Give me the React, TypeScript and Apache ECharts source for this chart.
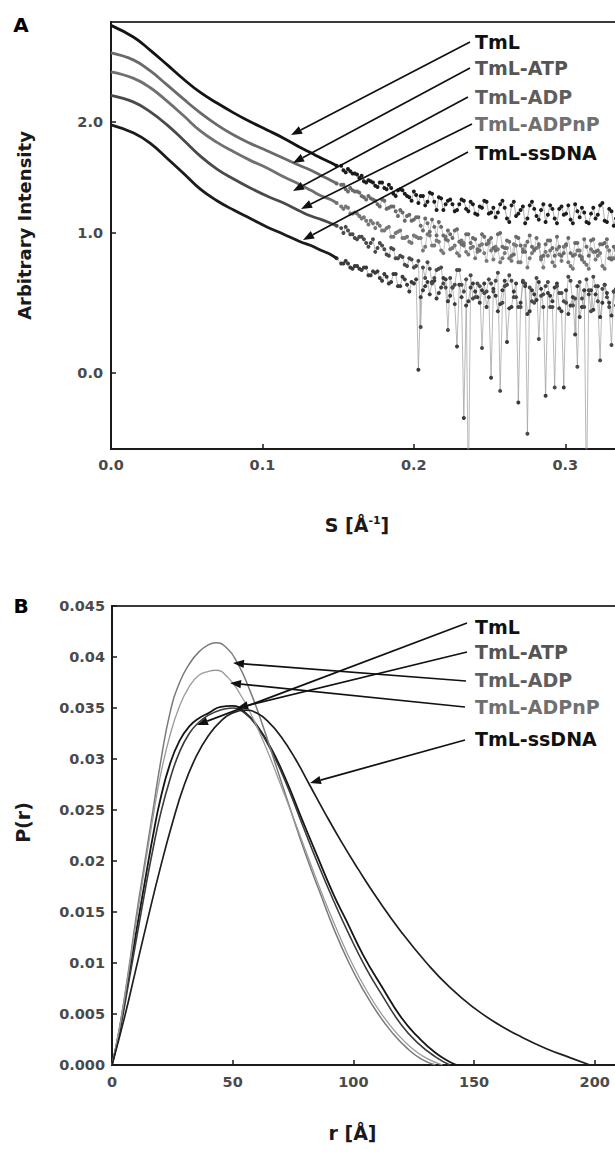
import React, { useEffect, useRef } from "react";
import * as echarts from "echarts";

// ---------- shared ----------
const NAMES = ["TmL", "TmL-ATP", "TmL-ADP", "TmL-ADPnP", "TmL-ssDNA"];

// ---------- Panel A : scattering curves ----------
const A_X_TICKS = [0, 0.1, 0.2, 0.3];
const A_Y_TICKS = [0, 1, 2];
const A_LOG_OFFSET = 3.4; // intensity axis of the figure is compressed (log-like)

const A_SMOOTH_S = [0, 0.015, 0.026, 0.037, 0.048, 0.059, 0.07, 0.081, 0.092, 0.103, 0.114, 0.125, 0.132, 0.139, 0.145, 0.149];
const A_SMOOTH_TML = [3.05, 2.91, 2.76, 2.6, 2.44, 2.3, 2.19, 2.09, 2.0, 1.92, 1.84, 1.75, 1.7, 1.65, 1.61, 1.58];
const A_SMOOTH_ATP = [2.73, 2.65, 2.53, 2.38, 2.23, 2.09, 1.97, 1.87, 1.79, 1.72, 1.65, 1.58, 1.54, 1.49, 1.45, 1.42];
const A_SMOOTH_ADP = [2.52, 2.45, 2.35, 2.21, 2.06, 1.91, 1.8, 1.71, 1.63, 1.56, 1.48, 1.41, 1.36, 1.31, 1.28, 1.25];
const A_SMOOTH_ADPNP = [2.27, 2.2, 2.1, 1.97, 1.82, 1.67, 1.55, 1.46, 1.38, 1.31, 1.25, 1.18, 1.14, 1.11, 1.08, 1.06];
const A_SMOOTH_SSDNA = [1.97, 1.89, 1.79, 1.65, 1.51, 1.37, 1.27, 1.19, 1.12, 1.05, 0.99, 0.93, 0.9, 0.86, 0.83, 0.8];

const A_NOISY_S = [
  0.152, 0.155, 0.158, 0.161, 0.164, 0.167, 0.17, 0.173, 0.176, 0.179,
  0.182, 0.185, 0.188, 0.191, 0.194, 0.197, 0.2, 0.203, 0.206, 0.209,
  0.212, 0.215, 0.218, 0.221, 0.224, 0.227, 0.23, 0.233, 0.236, 0.239,
  0.242, 0.245, 0.248, 0.251, 0.254, 0.257, 0.26, 0.263, 0.266, 0.269,
  0.272, 0.275, 0.278, 0.281, 0.284, 0.287, 0.29, 0.293, 0.296, 0.299,
  0.302, 0.305, 0.308, 0.311, 0.314, 0.317, 0.32, 0.323, 0.326, 0.329,
  0.332, 0.335, 0.338, 0.341, 0.344,
];
const A_NOISY_S_MID = [
  0.1535, 0.1565, 0.1595, 0.1625, 0.1655, 0.1685, 0.1715, 0.1745, 0.1775, 0.1805,
  0.1835, 0.1865, 0.1895, 0.1925, 0.1955, 0.1985, 0.2015, 0.2045, 0.2075, 0.2105,
  0.2135, 0.2165, 0.2195, 0.2225, 0.2255, 0.2285, 0.2315, 0.2345, 0.2375, 0.2405,
  0.2435, 0.2465, 0.2495, 0.2525, 0.2555, 0.2585, 0.2615, 0.2645, 0.2675, 0.2705,
  0.2735, 0.2765, 0.2795, 0.2825, 0.2855, 0.2885, 0.2915, 0.2945, 0.2975, 0.3005,
  0.3035, 0.3065, 0.3095, 0.3125, 0.3155, 0.3185, 0.3215, 0.3245, 0.3275, 0.3305,
  0.3335, 0.3365, 0.3395, 0.3425,
];

const A_NOISY_TML = [
  1.58, 1.52, 1.53, 1.51, 1.47, 1.44, 1.45, 1.43, 1.39, 1.43,
  1.37, 1.38, 1.31, 1.37, 1.33, 1.3, 1.35, 1.25, 1.31, 1.26,
  1.33, 1.19, 1.29, 1.24, 1.28, 1.18, 1.24, 1.27, 1.18, 1.24,
  1.15, 1.21, 1.26, 1.17, 1.13, 1.24, 1.21, 1.09, 1.26, 1.16,
  1.22, 1.12, 1.26, 1.14, 1.19, 1.09, 1.23, 1.12, 1.2, 1.15,
  1.23, 1.08, 1.18, 1.21, 1.09, 1.16, 1.12, 1.23, 1.1, 1.2,
  1.06, 1.17, 1.21, 1.12, 1.19,
];
const A_NOISY_TML_MID = [
  1.54, 1.55, 1.51, 1.5, 1.49, 1.43, 1.44, 1.4, 1.43, 1.38,
  1.41, 1.33, 1.36, 1.36, 1.31, 1.27, 1.32, 1.31, 1.23, 1.34,
  1.26, 1.3, 1.19, 1.27, 1.24, 1.19, 1.28, 1.2, 1.26, 1.16,
  1.22, 1.27, 1.16, 1.21, 1.17, 1.27, 1.12, 1.23, 1.14, 1.19,
  1.08, 1.23, 1.2, 1.11, 1.24, 1.15, 1.2, 1.08, 1.22, 1.16,
  1.11, 1.24, 1.13, 1.17, 1.08, 1.21, 1.15, 1.25, 1.09, 1.18,
  1.12, 1.2, 1.1, 1.23,
];
const A_NOISY_ATP = [
  1.41, 1.37, 1.38, 1.35, 1.34, 1.3, 1.31, 1.28, 1.24, 1.28,
  1.2, 1.22, 1.18, 1.19, 1.1, 1.15, 1.11, 1.13, 1.02, 1.08,
  1.11, 0.98, 1.05, 0.95, 0.99, 1.02, 0.93, 0.9, 0.99, 0.96,
  0.87, 0.99, 0.91, 0.96, 0.86, 1.0, 0.88, 0.93, 0.83, 0.96,
  0.85, 0.93, 0.89, 0.96, 0.81, 0.91, 0.94, 0.82, 0.89, 0.84,
  0.96, 0.82, 0.92, 0.79, 0.89, 0.94, 0.85, 0.91, 0.92, 0.8,
  0.89, 0.95, 0.84, 0.78, 0.92,
];
const A_NOISY_ATP_MID = [
  1.41, 1.35, 1.36, 1.35, 1.31, 1.28, 1.29, 1.27, 1.22, 1.27,
  1.21, 1.22, 1.14, 1.17, 1.14, 1.1, 1.13, 1.06, 1.12, 1.01,
  1.05, 1.09, 0.98, 1.02, 0.96, 1.03, 0.91, 0.99, 0.92, 0.95,
  0.86, 0.97, 0.94, 0.88, 0.99, 0.89, 0.94, 0.82, 0.97, 0.9,
  0.85, 0.98, 0.87, 0.91, 0.82, 0.94, 0.88, 0.97, 0.82, 0.91,
  0.84, 0.92, 0.82, 0.95, 0.82, 0.95, 0.86, 0.91, 0.95, 0.79,
  0.88, 0.83, 0.94, 0.85,
];
const A_NOISY_ADP = [
  1.22, 1.22, 1.16, 1.17, 1.14, 1.13, 1.07, 1.08, 1.08, 1.02,
  1.04, 0.97, 1.0, 1.02, 0.96, 0.93, 0.98, 0.96, 0.86, 0.99,
  0.9, 0.94, 0.86, 0.97, 0.87, 0.9, 0.82, 0.92, 0.83, 0.89,
  0.85, 0.91, 0.78, 0.86, 0.89, 0.77, 0.84, 0.8, 0.91, 0.77,
  0.87, 0.73, 0.84, 0.88, 0.79, 0.85, 0.86, 0.74, 0.83, 0.89,
  0.77, 0.72, 0.86, 0.81, 0.75, 0.87, 0.79, 0.84, 0.72, 0.86,
  0.8, 0.76, 0.89, 0.74, 0.83,
];
const A_NOISY_ADP_MID = [
  1.2, 1.21, 1.16, 1.16, 1.12, 1.1, 1.1, 1.04, 1.06, 1.02,
  1.05, 0.97, 1.01, 0.96, 0.97, 0.92, 0.97, 0.96, 0.89, 0.98,
  0.9, 0.93, 0.84, 0.94, 0.88, 0.84, 0.94, 0.85, 0.88, 0.8,
  0.9, 0.84, 0.92, 0.79, 0.87, 0.8, 0.88, 0.78, 0.9, 0.77,
  0.9, 0.8, 0.86, 0.89, 0.73, 0.82, 0.77, 0.87, 0.78, 0.9,
  0.74, 0.83, 0.86, 0.77, 0.72, 0.85, 0.82, 0.74, 0.89, 0.8,
  0.86, 0.72, 0.84, 0.81,
];
const A_NOISY_ADPNP = [
  1.04, 1.05, 0.99, 0.96, 0.97, 0.95, 0.89, 0.95, 0.88, 0.9,
  0.83, 0.88, 0.8, 0.82, 0.75, 0.8, 0.73, 0.78, 0.73, 0.77,
  0.61, 0.71, 0.73, 0.58, 0.65, 0.6, 0.71, 0.55, -0.7, 0.5,
  0.61, 0.16, 0.55, 0.61, 0.63, -0.11, 0.59, 0.67, 0.51, 0.44,
  0.63, -0.36, 0.48, 0.65, 0.52, 0.59, 0.44, -0.09, 0.54, 0.48,
  0.66, 0.45, 0.04, 0.5, 0.64, 0.41, 0.59, 0.08, 0.6, 0.44,
  0.55, 0.62, 0.46, 0.58, 0.42,
];
const A_NOISY_ADPNP_MID = [
  1.0, 1.02, 0.99, 0.95, 0.97, 0.92, 0.92, 0.85, 0.92, 0.87,
  0.82, 0.87, 0.8, 0.81, 0.74, 0.79, 0.74, 0.3, 0.65, 0.72,
  0.65, 0.72, 0.61, 0.28, 0.58, 0.71, 0.6, 0.64, 0.67, 0.51,
  0.59, 0.54, 0.64, 0.55, 0.69, 0.47, 0.6, 0.63, 0.51, 0.44,
  0.61, 0.58, 0.47, 0.22, 0.53, 0.62, 0.44, 0.59, 0.54, 0.47,
  0.63, 0.5, 0.62, 0.44, 0.56, 0.66, 0.48, 0.57, 0.51, 0.18,
  0.45, 0.6, 0.49, 0.55,
];
const A_NOISY_SSDNA = [
  0.76, 0.78, 0.73, 0.74, 0.72, 0.73, 0.67, 0.7, 0.7, 0.63,
  0.66, 0.62, 0.68, 0.59, 0.64, 0.55, 0.61, 0.02, 0.56, 0.62,
  0.62, 0.5, 0.58, 0.64, 0.52, 0.46, 0.6, -0.27, 0.48, 0.61,
  0.51, 0.56, 0.44, -0.03, 0.52, 0.46, 0.63, 0.43, 0.55, -0.18,
  0.62, 0.39, 0.56, 0.49, 0.57, -0.14, 0.52, 0.58, 0.43, -0.09,
  0.39, 0.51, 0.59, 0.44, -0.7, 0.56, 0.53, 0.37, 0.6, 0.47,
  0.55, 0.42, 0.61, 0.45, 0.51,
];
const A_NOISY_SSDNA_MID = [
  0.76, 0.76, 0.72, 0.74, 0.71, 0.73, 0.67, 0.69, 0.65, 0.68,
  0.61, 0.68, 0.59, 0.66, 0.6, 0.62, 0.64, 0.51, 0.59, 0.53,
  0.63, 0.54, 0.65, 0.48, 0.58, 0.17, 0.51, 0.45, 0.58, 0.55,
  0.47, 0.61, 0.51, 0.57, 0.41, 0.56, 0.2, 0.44, 0.61, 0.47,
  0.59, 0.41, 0.53, 0.62, 0.44, 0.54, 0.48, 0.61, 0.41, 0.56,
  0.45, 0.25, 0.37, 0.56, 0.53, 0.42, 0.59, 0.47, 0.54, 0.38,
  0.57, 0.49, 0.43, 0.6,
];

// ---------- Panel B : pair distance distributions P(r) ----------
const B_X_TICKS = [0, 50, 100, 150, 200];
const B_Y_TICKS = [0, 0.005, 0.01, 0.015, 0.02, 0.025, 0.03, 0.035, 0.04, 0.045];

const B_TML = [
  [0, 0], [3, 0.0033], [7, 0.0088], [10, 0.013], [14, 0.0185], [17, 0.0225], [20, 0.026],
  [24, 0.0295], [28, 0.0318], [32, 0.0332], [36, 0.034], [40, 0.0345], [45, 0.0351],
  [50, 0.0352], [55, 0.0346], [60, 0.0333], [66, 0.031], [72, 0.028], [78, 0.0245],
  [85, 0.0205], [92, 0.0166], [97, 0.0142], [104, 0.0108], [112, 0.0076], [120, 0.0046],
  [127, 0.0027], [134, 0.0012], [140, 0.0003], [143, 0],
];
const B_ATP = [
  [0, 0], [3, 0.003], [7, 0.0082], [10, 0.0122], [14, 0.0175], [17, 0.0212], [20, 0.0245],
  [24, 0.028], [28, 0.0307], [32, 0.0325], [36, 0.0336], [40, 0.0343], [45, 0.0348],
  [50, 0.035], [55, 0.0345], [60, 0.0332], [66, 0.0308], [72, 0.0277], [78, 0.0241],
  [85, 0.0199], [92, 0.016], [98, 0.0129], [105, 0.0096], [112, 0.0068], [120, 0.0039],
  [127, 0.0021], [134, 0.0008], [140, 0],
];
const B_ADP = [
  [0, 0], [3, 0.0035], [7, 0.0095], [10, 0.0145], [14, 0.0205], [17, 0.025], [20, 0.0295],
  [24, 0.0345], [28, 0.0375], [32, 0.0393], [36, 0.0405], [40, 0.0412], [43, 0.0414],
  [47, 0.041], [52, 0.0394], [57, 0.0368], [62, 0.0336], [68, 0.0293], [74, 0.025],
  [80, 0.0208], [86, 0.017], [92, 0.0133], [98, 0.0101], [104, 0.0074], [110, 0.0051],
  [116, 0.0032], [122, 0.0017], [128, 0.0006], [134, 0],
];
const B_ADPNP = [
  [0, 0], [3, 0.0035], [7, 0.0093], [10, 0.014], [14, 0.02], [17, 0.0243], [20, 0.0283],
  [24, 0.0323], [28, 0.0352], [32, 0.0371], [36, 0.0382], [40, 0.0386], [43, 0.0387],
  [48, 0.038], [53, 0.0364], [58, 0.0342], [64, 0.031], [70, 0.0274], [76, 0.0237],
  [82, 0.0199], [88, 0.0162], [94, 0.0128], [100, 0.0097], [106, 0.0071], [112, 0.0049],
  [118, 0.0031], [124, 0.0017], [130, 0.0007], [137, 0],
];
const B_SSDNA = [
  [0, 0], [5, 0.0045], [10, 0.0095], [15, 0.0145], [20, 0.0193], [25, 0.0237], [30, 0.0275],
  [35, 0.0303], [40, 0.0323], [45, 0.0337], [50, 0.0345], [55, 0.0348], [60, 0.0345],
  [65, 0.0336], [70, 0.0322], [76, 0.03], [82, 0.0274], [88, 0.0248], [95, 0.0219],
  [102, 0.0192], [110, 0.0163], [120, 0.013], [130, 0.0101], [140, 0.0076], [150, 0.0056],
  [160, 0.004], [170, 0.0027], [180, 0.0016], [190, 0.0007], [198, 0],
];

// ---------- layout / style (not data) ----------
const FONT = '"DejaVu Sans", "Liberation Sans", Arial, sans-serif';
const CHART_W = 660;
const CHART_H = 1152;
const GRID_A = { left: 111, top: 22, width: 530, height: 427 };
const GRID_B = { left: 112, top: 606, width: 531, height: 459 };
const A_RANGE_X = [0, 0.35];
const A_RANGE_Y = [-0.444, 3.09];
const B_RANGE_X = [0, 220];
const B_RANGE_Y = [0, 0.045];

const A_LINE_COLORS = ["#141414", "#6a6a6a", "#707070", "#4a4a4a", "#1c1c1c"];
const A_DOT_COLORS = ["#1c1c1c", "#6a6a6a", "#777777", "#4a4a4a", "#3a3a3a"];
const A_NOISE_LINE_COLORS = ["#8c8c8c", "#a6a6a6", "#aaaaaa", "#9e9e9e", "#9a9a9a"];
const B_LINE_COLORS = ["#151515", "#3a3a3a", "#7a7a7a", "#9a9a9a", "#1e1e1e"];
const B_LINE_WIDTHS = [1.8, 1.6, 1.5, 1.3, 1.7];
const LABEL_COLORS = ["#111111", "#555555", "#5e5e5e", "#707070", "#111111"];

const A_LABEL_X = 475;
const A_LABEL_Y = [42, 68, 97, 124, 153];
const A_ARROWS = [
  [470, 42, 291, 135],
  [470, 68, 293, 163],
  [468, 97, 293, 191],
  [472, 124, 301, 209],
  [468, 152, 303, 240],
];
const B_LABEL_X = 475;
const B_LABEL_Y = [627, 652, 680, 707, 739];
const B_ARROWS = [
  [467, 623, 197, 725],
  [467, 652, 237, 708],
  [466, 681, 233, 663],
  [465, 707, 230, 683],
  [465, 740, 310, 783],
];

const toT = (v: number) => Math.log(v + A_LOG_OFFSET);

function arrowGraphic(x1: number, y1: number, x2: number, y2: number) {
  const dx = x2 - x1;
  const dy = y2 - y1;
  const len = Math.hypot(dx, dy);
  const ux = dx / len;
  const uy = dy / len;
  const L = 11;
  const Wd = 4.2;
  const bx = x2 - ux * L;
  const by = y2 - uy * L;
  const nx = -uy;
  const ny = ux;
  return [
    {
      type: "line",
      z: 100,
      shape: { x1, y1, x2: bx, y2: by },
      style: { stroke: "#111", lineWidth: 1.7 },
    },
    {
      type: "polygon",
      z: 100,
      shape: {
        points: [
          [x2, y2],
          [bx + nx * Wd, by + ny * Wd],
          [bx - nx * Wd, by - ny * Wd],
        ],
      },
      style: { fill: "#111" },
    },
  ];
}

function labelGraphic(text: string, x: number, y: number, color: string) {
  return {
    type: "text",
    z: 100,
    x,
    y,
    style: {
      text,
      fill: color,
      fontFamily: FONT,
      fontWeight: "bold",
      fontSize: 19,
      align: "left",
      verticalAlign: "middle",
    },
  };
}

const tickLabelStyle = {
  fontFamily: FONT,
  fontWeight: "bold",
  fontSize: 14.5,
  color: "#4a4a4a",
};
const titleStyle = {
  fontFamily: FONT,
  fontWeight: "bold",
  fontSize: 19,
  color: "#1a1a1a",
};
const axisLineStyle = { show: true, onZero: false, lineStyle: { color: "#1a1a1a", width: 2 } };

export default function App() {
  const ref = useRef<HTMLDivElement>(null);

  useEffect(() => {
    if (!ref.current) return;
    const chart = echarts.init(ref.current, undefined, { renderer: "svg" });

    const aSmooth = [A_SMOOTH_TML, A_SMOOTH_ATP, A_SMOOTH_ADP, A_SMOOTH_ADPNP, A_SMOOTH_SSDNA];
    const aNoisy = [A_NOISY_TML, A_NOISY_ATP, A_NOISY_ADP, A_NOISY_ADPNP, A_NOISY_SSDNA];
    const aNoisyMid = [A_NOISY_TML_MID, A_NOISY_ATP_MID, A_NOISY_ADP_MID, A_NOISY_ADPNP_MID, A_NOISY_SSDNA_MID];
    const bCurves = [B_TML, B_ATP, B_ADP, B_ADPNP, B_SSDNA];

    const seriesA: any[] = [];
    // draw lower curves first so the upper band stays on top
    for (let k = NAMES.length - 1; k >= 0; k--) {
      const sm = aSmooth[k];
      const smoothData = A_SMOOTH_S.map((s, j) => [s, toT(sm[j])]);
      const last = smoothData[smoothData.length - 1];
      const noisyData: number[][] = [last];
      A_NOISY_S.forEach((s, j) => {
        noisyData.push([s, toT(aNoisy[k][j])]);
        if (j < A_NOISY_S_MID.length) noisyData.push([A_NOISY_S_MID[j], toT(aNoisyMid[k][j])]);
      });
      seriesA.push({
        name: NAMES[k] + " (noisy)",
        type: "line",
        xAxisIndex: 0,
        yAxisIndex: 0,
        data: noisyData,
        symbol: "circle",
        symbolSize: 4,
        showSymbol: true,
        clip: true,
        itemStyle: { color: A_DOT_COLORS[k] },
        lineStyle: { color: A_NOISE_LINE_COLORS[k], width: 0.7 },
        z: 2,
      });
      seriesA.push({
        name: NAMES[k],
        type: "line",
        xAxisIndex: 0,
        yAxisIndex: 0,
        data: smoothData,
        symbol: "none",
        smooth: 0.45,
        clip: true,
        lineStyle: { color: A_LINE_COLORS[k], width: 2.8 },
        z: 3,
      });
    }

    const seriesB = bCurves.map((c, k) => ({
      name: NAMES[k] + " P(r)",
      type: "line",
      xAxisIndex: 1,
      yAxisIndex: 1,
      data: c,
      symbol: "none",
      smooth: 0.5,
      clip: true,
      lineStyle: { color: B_LINE_COLORS[k], width: B_LINE_WIDTHS[k] },
      z: 3,
    }));

    const graphics: any[] = [
      {
        type: "text",
        z: 100,
        x: 21,
        y: 25,
        style: { text: "A", fontFamily: FONT, fontWeight: "bold", fontSize: 20, fill: "#000", align: "center", verticalAlign: "middle" },
      },
      {
        type: "text",
        z: 100,
        x: 21,
        y: 606,
        style: { text: "B", fontFamily: FONT, fontWeight: "bold", fontSize: 20, fill: "#000", align: "center", verticalAlign: "middle" },
      },
    ];
    NAMES.forEach((n, k) => {
      graphics.push(labelGraphic(n, A_LABEL_X, A_LABEL_Y[k], LABEL_COLORS[k]));
      graphics.push(...arrowGraphic(A_ARROWS[k][0], A_ARROWS[k][1], A_ARROWS[k][2], A_ARROWS[k][3]));
      graphics.push(labelGraphic(n, B_LABEL_X, B_LABEL_Y[k], LABEL_COLORS[k]));
      graphics.push(...arrowGraphic(B_ARROWS[k][0], B_ARROWS[k][1], B_ARROWS[k][2], B_ARROWS[k][3]));
    });

    const option: any = {
      animation: false,
      backgroundColor: "#ffffff",
      grid: [
        { ...GRID_A, show: true, borderColor: "#3a3a3a", borderWidth: 2, backgroundColor: "transparent" },
        { ...GRID_B, show: true, borderColor: "#3a3a3a", borderWidth: 2, backgroundColor: "transparent" },
      ],
      xAxis: [
        {
          type: "value",
          gridIndex: 0,
          min: A_RANGE_X[0],
          max: A_RANGE_X[1],
          axisLine: axisLineStyle,
          axisTick: { show: true, inside: true, length: 5, customValues: A_X_TICKS, lineStyle: { color: "#1a1a1a", width: 1.5 } },
          axisLabel: {
            ...tickLabelStyle,
            margin: 8,
            customValues: A_X_TICKS,
            formatter: (v: number) => v.toFixed(1),
          },
          splitLine: { show: false },
          name: "S [Å{sup|-1}]",
          nameLocation: "middle",
          nameGap: 66,
          nameTextStyle: {
            ...titleStyle,
            padding: [0, 38, 0, 0],
            rich: { sup: { fontFamily: FONT, fontWeight: "bold", fontSize: 11, color: "#1a1a1a", verticalAlign: "top", padding: [0, 0, 8, 0] } },
          },
        },
        {
          type: "value",
          gridIndex: 1,
          min: B_RANGE_X[0],
          max: B_RANGE_X[1],
          axisLine: axisLineStyle,
          axisTick: { show: true, inside: true, length: 5, customValues: B_X_TICKS, lineStyle: { color: "#1a1a1a", width: 1.5 } },
          axisLabel: {
            ...tickLabelStyle,
            margin: 9,
            customValues: B_X_TICKS,
            formatter: (v: number) => String(v),
          },
          splitLine: { show: false },
          name: "r [Å]",
          nameLocation: "middle",
          nameGap: 58,
          nameTextStyle: { ...titleStyle, padding: [0, 50, 0, 0] },
        },
      ],
      yAxis: [
        {
          type: "value",
          gridIndex: 0,
          min: toT(A_RANGE_Y[0]),
          max: toT(A_RANGE_Y[1]),
          axisLine: axisLineStyle,
          axisTick: { show: true, inside: true, length: 5, customValues: A_Y_TICKS.map(toT), lineStyle: { color: "#1a1a1a", width: 1.5 } },
          axisLabel: {
            ...tickLabelStyle,
            margin: 8,
            customValues: A_Y_TICKS.map(toT),
            formatter: (t: number) => (Math.round((Math.exp(t) - A_LOG_OFFSET) * 10) / 10 + 0).toFixed(1),
          },
          splitLine: { show: false },
          name: "Arbitrary Intensity",
          nameLocation: "middle",
          nameRotate: 90,
          nameGap: 78,
          nameTextStyle: { ...titleStyle, fontSize: 18, padding: [0, 0, 0, 20] },
        },
        {
          type: "value",
          gridIndex: 1,
          min: B_RANGE_Y[0],
          max: B_RANGE_Y[1],
          axisLine: axisLineStyle,
          axisTick: { show: true, inside: true, length: 5, customValues: B_Y_TICKS, lineStyle: { color: "#1a1a1a", width: 1.5 } },
          axisLabel: {
            ...tickLabelStyle,
            margin: 7,
            customValues: B_Y_TICKS,
            formatter: (v: number) => (v === 0 ? "0.000" : String(v)),
          },
          splitLine: { show: false },
          name: "P(r)",
          nameLocation: "middle",
          nameRotate: 90,
          nameGap: 80,
          nameTextStyle: { ...titleStyle, padding: [0, 0, 0, 26] },
        },
      ],
      series: [...seriesA, ...seriesB],
      graphic: graphics,
    };

    chart.setOption(option);
    return () => {
      chart.dispose();
    };
  }, []);

  return (
    <div
      style={{
        position: "fixed",
        left: 0,
        top: 0,
        width: 615,
        height: 1152,
        overflow: "hidden",
        background: "#fff",
      }}
    >
      <div ref={ref} style={{ width: CHART_W, height: CHART_H }} />
    </div>
  );
}
